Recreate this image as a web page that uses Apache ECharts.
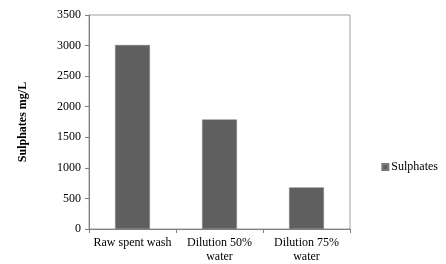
<!DOCTYPE html>
<html>
<head>
<meta charset="utf-8">
<script src="https://cdn.jsdelivr.net/npm/echarts@6/dist/echarts.min.js"></script>
<style>
  html, body { margin: 0; padding: 0; background: #fff; }
  #chart { width: 446px; height: 264px; }
</style>
</head>
<body>
<div id="chart"></div>
<script>
// categories and values
var categories = ['Raw spent wash', 'Dilution 50%\nwater', 'Dilution 75%\nwater'];
var sulphates = [3010, 1790, 680];
var yTicks = { min: 0, max: 3500, interval: 500 };

var chart = echarts.init(document.getElementById('chart'));
var font = '"Liberation Serif", "Times New Roman", serif';

chart.setOption({
  backgroundColor: '#fff',
  animation: false,
  textStyle: { fontFamily: font },
  grid: {
    left: 89, right: 96, top: 15, bottom: 34,
    show: true, borderColor: '#a0a0a0', borderWidth: 1
  },
  legend: {
    data: ['Sulphates'],
    right: 3, top: 156,
    itemWidth: 6, itemHeight: 6, itemGap: 4,
    icon: 'rect',
    textStyle: { fontFamily: font, fontSize: 12, color: '#000', padding: [0, 0, 0, -2] }
  },
  xAxis: {
    type: 'category',
    data: categories,
    axisLine: { lineStyle: { color: '#808080' } },
    axisTick: { show: true, alignWithLabel: false, length: 4, lineStyle: { color: '#808080' } },
    axisLabel: { color: '#000', fontFamily: font, fontSize: 12, margin: 7, lineHeight: 14, interval: 0 }
  },
  yAxis: {
    type: 'value',
    min: yTicks.min, max: yTicks.max, interval: yTicks.interval,
    name: 'Sulphates mg/L',
    nameLocation: 'middle',
    nameGap: 60,
    nameTextStyle: { fontFamily: font, fontSize: 12, fontWeight: 'bold', color: '#000' },
    axisLine: { show: true, lineStyle: { color: '#808080' } },
    axisTick: { show: true, length: 4, lineStyle: { color: '#808080' } },
    axisLabel: { color: '#000', fontFamily: font, fontSize: 12, margin: 8, formatter: function (v) { return String(v); } },
    splitLine: { show: false }
  },
  series: [{
    name: 'Sulphates',
    type: 'bar',
    data: sulphates,
    barWidth: '40%',
    itemStyle: { color: '#5f5f5f', borderColor: '#7a7a7a', borderWidth: 0.5 }
  }]
});
</script>
</body>
</html>
